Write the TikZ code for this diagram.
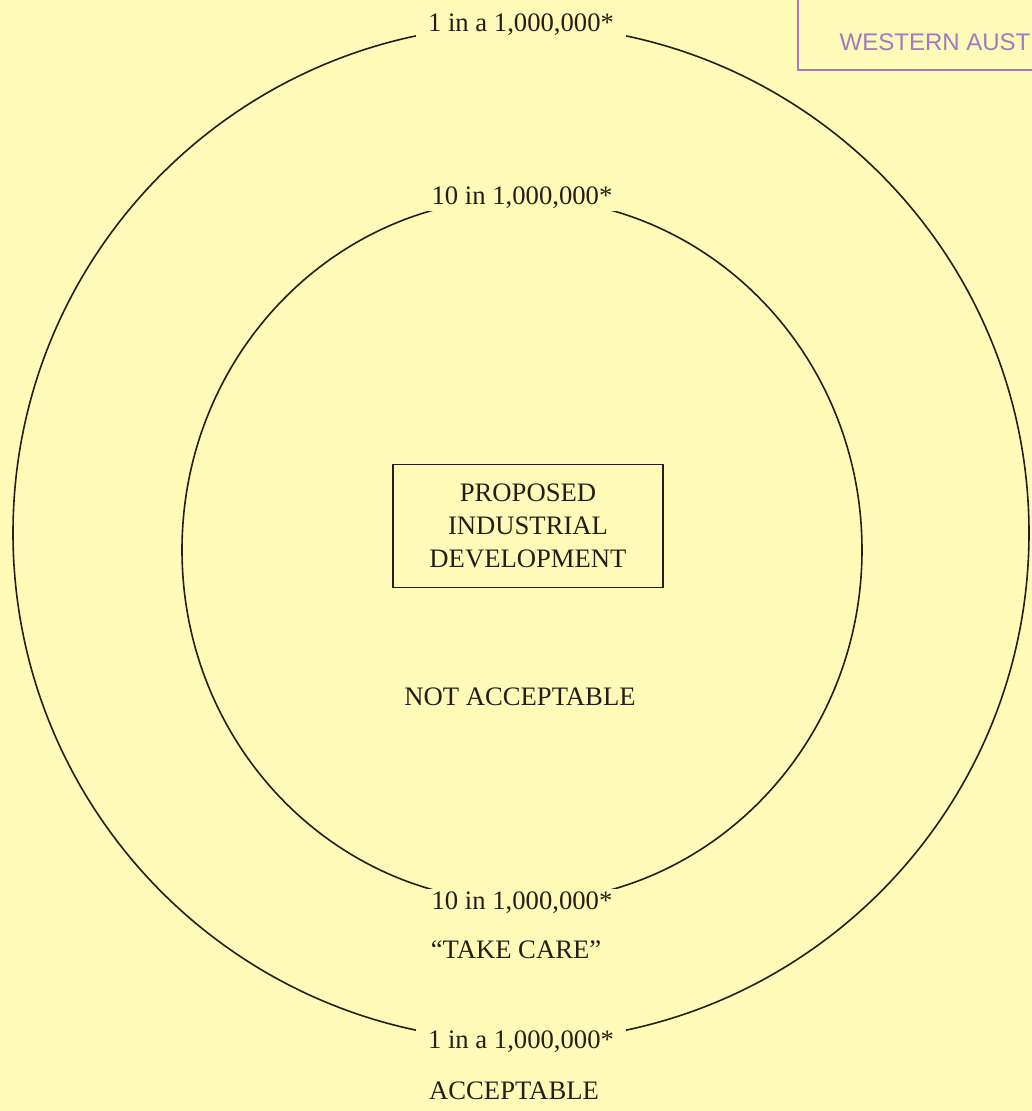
\documentclass[tikz,border=0pt]{standalone}
\usepackage{fontspec}
\setmainfont{Liberation Serif}
\newfontfamily\stampfont{Liberation Sans}
\usetikzlibrary{positioning, shapes.geometric}

\definecolor{paper}{RGB}{254,250,184}
\definecolor{ink}{RGB}{40,28,22}
\definecolor{stampink}{RGB}{165,120,195}

\begin{document}
\begin{tikzpicture}[x=0.75pt, y=-0.75pt,
    ring/.style={ellipse, draw=ink, line width=1.2pt, inner sep=0pt},
    risk/.style={fill=paper, text=ink, inner xsep=9pt, inner ysep=2pt,
                 font=\fontsize{20}{24}\selectfont},
    zone/.style={text=ink, font=\fontsize{20}{24}\selectfont},
    plant/.style={draw=ink, line width=1pt, text=ink, align=center,
                  minimum width=202.5pt, minimum height=92pt,
                  font=\fontsize{20}{24.75}\selectfont}
]

    % Paper
    \fill[paper] (0,0) rectangle (1032,1111);
    \useasboundingbox (0,0) rectangle (1032,1111);
    \clip (0,0) rectangle (1032,1111);

    % Risk contours
    \node[ring, minimum width=762pt, minimum height=762pt] (outer) at (521,533) {};
    \node[ring, minimum width=510pt, minimum height=528pt] (inner) at (522,550) {};

    % Contour labels
    \node[risk] (outertop) at (outer.north) {1 in a 1,000,000*};
    \node[risk] (outerbot) at (outer.south) {1 in a 1,000,000*};
    \node[risk] (innertop) at (inner.north) {10 in 1,000,000*};
    \node[risk] (innerbot) at (inner.south) {10 in 1,000,000*};

    % Development
    \node[plant] (plant) at (528,526) {PROPOSED\\INDUSTRIAL\\DEVELOPMENT};

    % Zones
    \node[zone] (notok) at (520,697) {NOT ACCEPTABLE};
    \node[zone] (care) at (516,950) {``TAKE CARE''};
    \node[zone] (ok) at (514,1091) {ACCEPTABLE};

    % Stamp
    \draw[stampink, line width=2pt] (798,-5) |- (1040,70);
    \node[text=stampink, anchor=base west, font=\stampfont\fontsize{18}{20}\selectfont]
        (stamp) at (835,50) {WESTERN AUST};

\end{tikzpicture}
\end{document}
